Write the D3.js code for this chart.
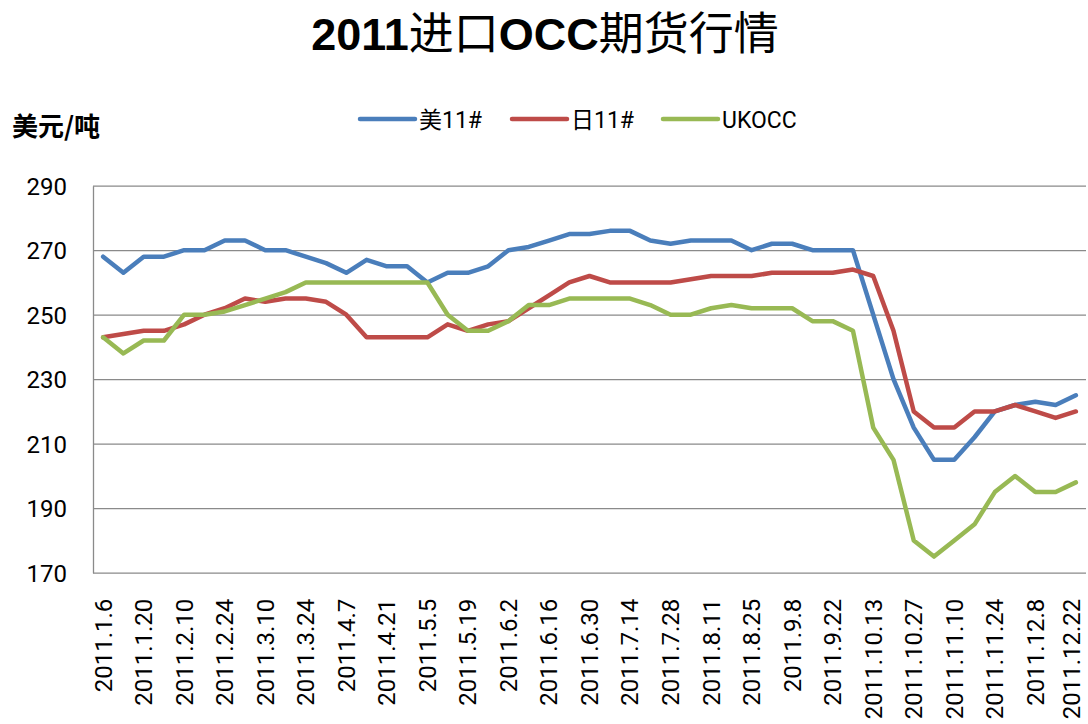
<!DOCTYPE html>
<html>
<head>
<meta charset="utf-8">
<script src="https://cdn.jsdelivr.net/npm/d3@7"></script>
<style>
  html, body { margin: 0; padding: 0; background: #fff; }
  svg { display: block; }
</style>
</head>
<body>
<svg id="chart" width="1088" height="724"></svg>
<script>
const titleParts = [["2011", "bold"], ["进口", "normal"], ["OCC", "bold"], ["期货行情", "normal"]];
const yTitle = "美元/吨";
const dates = ["2011.1.6","2011.1.13","2011.1.20","2011.1.27","2011.2.10","2011.2.17","2011.2.24","2011.3.3","2011.3.10","2011.3.17","2011.3.24","2011.3.31","2011.4.7","2011.4.14","2011.4.21","2011.4.28","2011.5.5","2011.5.12","2011.5.19","2011.5.26","2011.6.2","2011.6.9","2011.6.16","2011.6.23","2011.6.30","2011.7.7","2011.7.14","2011.7.21","2011.7.28","2011.8.4","2011.8.11","2011.8.18","2011.8.25","2011.9.1","2011.9.8","2011.9.15","2011.9.22","2011.9.29","2011.10.13","2011.10.20","2011.10.27","2011.11.3","2011.11.10","2011.11.17","2011.11.24","2011.12.1","2011.12.8","2011.12.15","2011.12.22"];
const seriesNames = ["美11#", "日11#", "UKOCC"];
const seriesColors = ["#4A7EBB", "#BE4B48", "#98B954"];
const us11 = [268,263,268,268,270,270,273,273,270,270,268,266,263,267,265,265,260,263,263,265,270,271,273,275,275,276,276,273,272,273,273,273,270,272,272,270,270,270,250,230,215,205,205,212,220,222,223,222,225];
const jp11 = [243,244,245,245,247,250,252,255,254,255,255,254,250,243,243,243,243,247,245,247,248,252,256,260,262,260,260,260,260,261,262,262,262,263,263,263,263,264,262,245,220,215,215,220,220,222,220,218,220];
const ukocc = [243,238,242,242,250,250,251,253,255,257,260,260,260,260,260,260,260,250,245,245,248,253,253,255,255,255,255,253,250,250,252,253,252,252,252,248,248,245,215,205,180,175,180,185,195,200,195,195,198];
const yTicks = [170,190,210,230,250,270,290];
const yDomain = [170, 290];

const svg = d3.select("#chart");
const plotLeft = 93, plotRight = 1086, plotTop = 185.7, plotBottom = 572.7;
const latin = "Roboto, 'Liberation Sans', Arial, sans-serif";
const cjk = "'Liberation Sans', 'Noto Sans CJK SC', sans-serif";

const x = d3.scalePoint().domain(dates).range([plotLeft, plotRight]).padding(0.5);
const y = d3.scaleLinear().domain(yDomain).range([plotBottom, plotTop]);

// Title
const title = svg.append("text")
  .attr("x", 545).attr("y", 50)
  .attr("text-anchor", "middle")
  .style("font-family", cjk)
  .style("font-size", "45px")
  .attr("fill", "#000");
title.selectAll("tspan").data(titleParts).join("tspan")
  .text(d => d[0])
  .style("font-weight", d => d[1]);

// Y axis title
svg.append("text")
  .attr("x", 12).attr("y", 136)
  .style("font-family", "'Noto Sans CJK SC', sans-serif")
  .style("font-size", "26px")
  .style("font-weight", "bold")
  .attr("fill", "#000")
  .text(yTitle);

// Y axis with gridlines
const yAxis = svg.append("g")
  .attr("transform", `translate(${plotLeft},0)`)
  .call(d3.axisLeft(y).tickValues(yTicks).tickSizeInner(-(plotRight - plotLeft)).tickSizeOuter(0).tickPadding(26));
yAxis.select(".domain").attr("stroke", "#8a8a8a").attr("stroke-width", 1.3);
yAxis.selectAll(".tick line").attr("stroke", "#8a8a8a").attr("stroke-width", 1.3);
yAxis.selectAll(".tick text")
  .style("font-family", latin)
  .style("font-size", "24px")
  .attr("fill", "#000")
  .attr("dy", "0.36em");

// X axis
const xTickVals = dates.filter((d, i) => i % 2 === 0);
const xAxis = svg.append("g")
  .attr("transform", `translate(0,${plotBottom})`)
  .call(d3.axisBottom(x).tickValues(xTickVals).tickSize(0));
xAxis.select(".domain").remove();
xAxis.selectAll(".tick text")
  .style("font-family", latin)
  .style("font-size", "24px")
  .attr("fill", "#000")
  .attr("text-anchor", "end")
  .attr("transform", "rotate(-90)")
  .attr("x", -26)
  .attr("y", d => d === dates[dates.length - 1] ? -4 : 0)
  .attr("dy", "0.33em");

// Lines
const seriesData = [us11, jp11, ukocc];
const line = d3.line().x((d, i) => x(dates[i])).y(d => y(d));
svg.append("g").selectAll("path").data(seriesData).join("path")
  .attr("d", d => line(d))
  .attr("fill", "none")
  .attr("stroke", (d, i) => seriesColors[i])
  .attr("stroke-width", 4.5)
  .attr("stroke-linejoin", "round")
  .attr("stroke-linecap", "round");

// Legend
const legendX = [360, 512, 663];
const lg = svg.append("g").selectAll("g").data(seriesNames).join("g")
  .attr("transform", (d, i) => `translate(${legendX[i]},119)`);
lg.append("line")
  .attr("x1", 0).attr("x2", 55).attr("y1", 0).attr("y2", 0)
  .attr("stroke", (d, i) => seriesColors[i])
  .attr("stroke-width", 4.5)
  .attr("stroke-linecap", "round");
lg.append("text")
  .attr("x", 59).attr("y", 9)
  .style("font-family", "Roboto, 'Noto Sans CJK SC', sans-serif")
  .style("font-size", "23px")
  .attr("fill", "#000")
  .text(d => d);
</script>
</body>
</html>
